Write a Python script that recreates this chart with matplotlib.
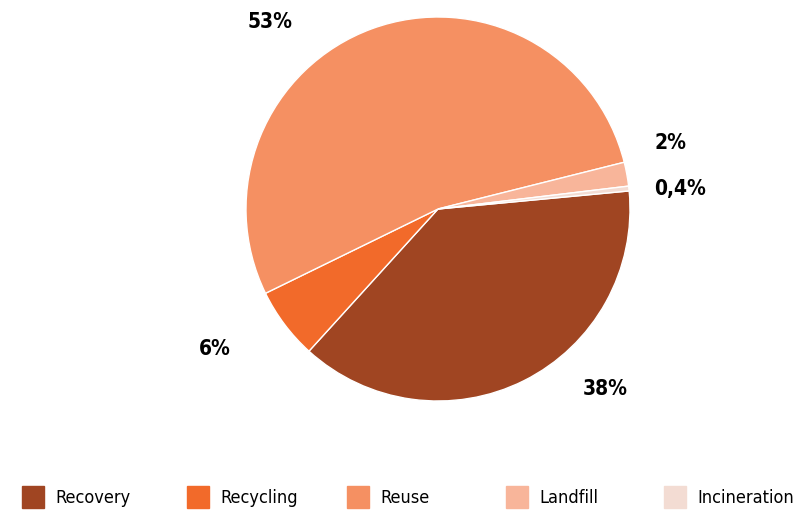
import matplotlib
matplotlib.use('Agg')
from matplotlib import pyplot as plt
from matplotlib.patches import Rectangle

categories = ['Recovery', 'Recycling', 'Reuse', 'Landfill', 'Incineration']
shares = [38, 6, 53, 2, 0.4]
pct_labels = ['38%', '6%', '53%', '2%', '0,4%']
colors = ['#A04522', '#F26A2A', '#F59062', '#F8B59A', '#F3DCD3']

# label spots (data coords of the pie, radius 1)
label_xy = [(0.87, -0.94), (-1.16, -0.73), (-0.875, 0.975), (1.21, 0.345), (1.26, 0.105)]

W, H = 803, 512
fig = plt.figure(figsize=(W / 100, H / 100), dpi=100)

cx, cy, r = 438, 512 - 209, 192
ax = fig.add_axes([(cx - r) / W, (cy - r) / H, 2 * r / W, 2 * r / H])
ax.pie(shares, colors=colors, startangle=5.4, counterclock=False,
       wedgeprops=dict(edgecolor='white', linewidth=1))
ax.set_aspect('equal')
ax.set_xlim(-1, 1)
ax.set_ylim(-1, 1)
ax.axis('off')

for (x, y), lab in zip(label_xy, pct_labels):
    ax.text(x, y, lab, ha='center', va='center', fontsize=15, fontweight='bold',
            fontstretch='condensed', family='DejaVu Sans', clip_on=False)

# legend row
leg_x = [22, 187, 347, 506, 664]
for x0, name, c in zip(leg_x, categories, colors):
    fig.patches.append(Rectangle((x0 / W, (512 - 508) / H), 22 / W, 22 / H,
                                 transform=fig.transFigure, color=c))
    fig.text((x0 + 33) / W, (512 - 498) / H, name, ha='left', va='center',
             fontsize=13, fontstretch='condensed', family='DejaVu Sans')

fig.savefig('out.png', dpi=100)
